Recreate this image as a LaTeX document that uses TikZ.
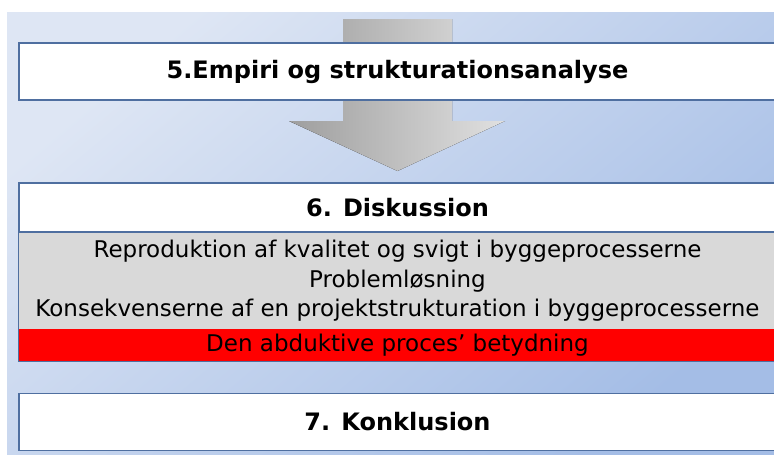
\documentclass[tikz,border=0pt]{standalone}
\usepackage{fontspec}
\setmainfont{DejaVu Sans}
\usepackage{tikz}
\usetikzlibrary{positioning}
\definecolor{bglight}{RGB}{222,230,244}
\definecolor{bgdark}{RGB}{164,189,230}
\definecolor{boxline}{RGB}{79,111,160}
\definecolor{bodygrey}{RGB}{217,217,217}
\definecolor{hotred}{RGB}{255,0,0}
\tikzset{
  stage/.style={rectangle, draw=boxline, fill=white, line width=1.2pt,
    minimum width=757pt, minimum height=57pt, inner sep=0pt,
    font=\fontsize{24}{28}\selectfont\bfseries},
  head/.style={stage, minimum height=49pt},
  body/.style={rectangle, fill=bodygrey, minimum width=757pt, minimum height=96pt,
    inner sep=0pt, align=center, font=\fontsize{23}{29.3}\selectfont},
  band/.style={rectangle, fill=hotred, minimum width=757pt, minimum height=32pt,
    inner sep=0pt, font=\fontsize{23}{27}\selectfont},
  flow/.style={left color=black!38, right color=black!12}
}

\begin{document}
\begin{tikzpicture}[x=1pt, y=-1pt]
    \useasboundingbox (0,0) rectangle (774,455);
    % Background
    \fill[bgdark!70!bglight] (7,12) rectangle (774,455);
    \shade[top color=bglight, bottom color=bgdark, shading angle=40] (7,12) rectangle (774,455);

    % Big arrow behind the first box
    \fill[flow] (343,19) -- (452,19) -- (452,121) -- (505,121) -- (397.5,171)
        -- (289,121) -- (343,121) -- cycle;

    % Stage 5
    \node[stage] (empiri) at (397.5,71.5) {5.Empiri og strukturationsanalyse};

    % Stage 6 with its points
    \node[head] (disk) at (397.5,207.5) {6. Diskussion};
    \node[body, below=0pt of disk] (points) {Reproduktion af kvalitet og svigt i byggeprocesserne\\
        Problemløsning\\
        Konsekvenserne af en projektstrukturation i byggeprocesserne};
    \node[band, below=0pt of points] (abduk) {Den abduktive proces’ betydning};
    \draw[draw=boxline, line width=1.2pt] (disk.north west) rectangle (abduk.south east);
    \draw[draw=boxline, line width=1.2pt] (disk.south west) -- (disk.south east);

    % Stage 7
    \node[stage] (konkl) at (397.5,422) {7. Konklusion};
\end{tikzpicture}
\end{document}
